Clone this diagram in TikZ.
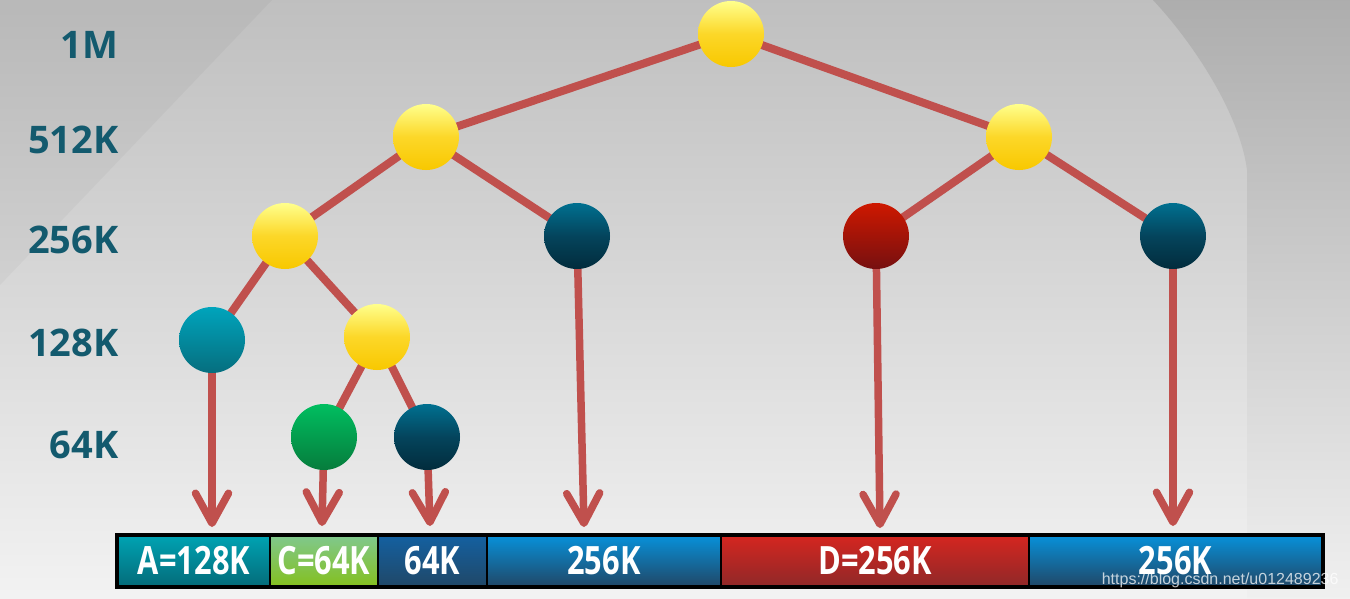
\documentclass[tikz,border=0pt]{standalone}
\usepackage{graphicx}
\usepackage{fontspec}
\setsansfont{Open Sans}
\newfontfamily\wmfont{Liberation Sans}
\usetikzlibrary{arrows.meta}
\pgfdeclarelayer{back}
\pgfdeclarelayer{edges}
\pgfsetlayers{back,edges,main}
\definecolor{edgered}{HTML}{C0504D}
\definecolor{lbl}{HTML}{135A6E}
\tikzset{
  ball/.style={circle, minimum size=66pt, inner sep=0pt},
  yel/.style={ball, top color=yellow!45!white, bottom color={rgb,255:red,248;green,200;blue,0}, middle color={rgb,255:red,252;green,215;blue,40}},
  tealb/.style={ball, top color={rgb,255:red,0;green,164;blue,188}, bottom color={rgb,255:red,6;green,110;blue,126}},
  darkb/.style={ball, top color={rgb,255:red,0;green,112;blue,144}, bottom color={rgb,255:red,2;green,44;blue,60}, middle color={rgb,255:red,4;green,68;blue,92}},
  redb/.style={ball, top color={rgb,255:red,206;green,24;blue,0}, bottom color={rgb,255:red,118;green,16;blue,16}},
  greenb/.style={ball, top color={rgb,255:red,0;green,190;blue,96}, bottom color={rgb,255:red,6;green,124;blue,60}},
  edge/.style={draw=edgered, line width=8pt},
  arr/.style={draw=edgered, line width=7.5pt, -{Straight Barb[length=30pt,width=33pt,round]}},
  lvl/.style={anchor=east, text=lbl, font=\sffamily\bfseries\fontsize{38}{40}\selectfont},
  seg/.style={rectangle, draw=black, line width=2.5pt, minimum height=50pt, inner sep=0pt, text=white, font=\sffamily\bfseries\fontsize{39}{40}\selectfont},
}
\newcommand{\cond}[1]{\scalebox{0.79}[1]{#1}}
\begin{document}
\begin{tikzpicture}[x=1pt,y=-1pt]
\useasboundingbox (0,0) rectangle (1350,598);
% background
\begin{pgfonlayer}{back}
\shade[top color=black!25, bottom color=black!5] (0,0) rectangle (1350,598);
\fill[black, opacity=0.03] (0,0) -- (272,0) -- (0,285) -- cycle;
\shade[top color=black!32, bottom color=black!6] (1153,0) .. controls (1195,45) and (1240,115) .. (1247,170) -- (1247,598) -- (1350,598) -- (1350,0) -- cycle;
\end{pgfonlayer}
% level labels
\node[lvl] (l1) at (122,45) {1M};
\node[lvl] (l2) at (122,140) {512K};
\node[lvl] (l3) at (122,240) {256K};
\node[lvl] (l4) at (122,343) {128K};
\node[lvl] (l5) at (122,445) {64K};
% tree nodes
\node[yel] (r) at (731,34) {};
\node[yel] (a) at (426,137) {};
\node[yel] (b) at (1019,137) {};
\node[yel] (c) at (285,236) {};
\node[darkb] (d) at (577,236) {};
\node[redb] (e) at (876,236) {};
\node[darkb] (f) at (1173,236) {};
\node[tealb] (g) at (212,340) {};
\node[yel] (h) at (377,337) {};
\node[greenb] (i) at (324,437) {};
\node[darkb] (j) at (427,437) {};
% memory bar
\node[seg, minimum width=152pt, top color={rgb,255:red,0;green,162;blue,178}, bottom color={rgb,255:red,4;green,108;blue,122}] (sA) at (194,561) {\cond{A=128K}};
\node[seg, minimum width=108pt, top color={rgb,255:red,128;green,200;blue,140}, bottom color={rgb,255:red,132;green,192;blue,32}] (sC) at (324,561) {\cond{C=64K}};
\node[seg, minimum width=109pt, top color={rgb,255:red,20;green,96;blue,160}, bottom color={rgb,255:red,32;green,72;blue,104}] (s1) at (432.5,561) {\cond{64K}};
\node[seg, minimum width=234pt, top color={rgb,255:red,8;green,144;blue,216}, bottom color={rgb,255:red,32;green,72;blue,104}] (s2) at (604,561) {\cond{256K}};
\node[seg, minimum width=308pt, top color={rgb,255:red,212;green,38;blue,32}, bottom color={rgb,255:red,144;green,40;blue,40}] (sD) at (875,561) {\cond{D=256K}};
\node[seg, minimum width=293pt, top color={rgb,255:red,8;green,144;blue,216}, bottom color={rgb,255:red,32;green,72;blue,104}] (s3) at (1175.5,561) {\cond{256K}};
\draw[black, line width=4pt] (sA.north west) rectangle (s3.south east);
\node[anchor=east, text=white, opacity=0.75, font=\wmfont\fontsize{16}{18}\selectfont] (wm) at (1342,580) {https://blog.csdn.net/u012489236};
% arrow ends
\coordinate (tA) at (212,527);
\coordinate (tC) at (322,526);
\coordinate (t1) at (430,526);
\coordinate (t2) at (584,527);
\coordinate (tD) at (880,528);
\coordinate (t3) at (1173,526);
% edges
\begin{pgfonlayer}{edges}
\draw[edge] (r.center) -- (a.center);
\draw[edge] (r.center) -- (b.center);
\draw[edge] (a.center) -- (c.center);
\draw[edge] (a.center) -- (d.center);
\draw[edge] (b.center) -- (e.center);
\draw[edge] (b.center) -- (f.center);
\draw[edge] (c.center) -- (g.center);
\draw[edge] (c.center) -- (h.center);
\draw[edge] (h.center) -- (i.center);
\draw[edge] (h.center) -- (j.center);
\draw[arr] (g.center) -- (tA);
\draw[arr] (i.center) -- (tC);
\draw[arr] (j.center) -- (t1);
\draw[arr] (d.center) -- (t2);
\draw[arr] (e.center) -- (tD);
\draw[arr] (f.center) -- (t3);
\end{pgfonlayer}
\end{tikzpicture}
\end{document}
